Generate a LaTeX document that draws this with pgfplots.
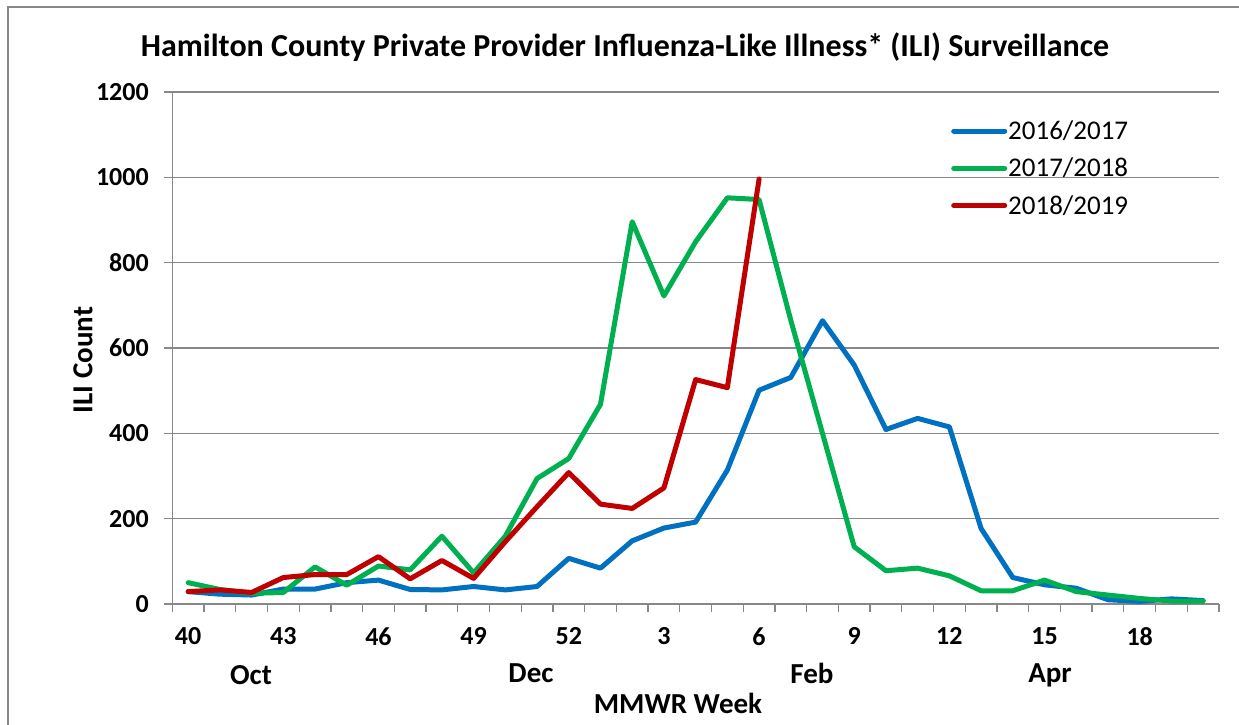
\documentclass[border=0pt]{standalone}
\usepackage{fontspec}
\setmainfont{Carlito}
\usepackage{pgfplots}
\pgfplotsset{compat=1.18}
\definecolor{c1}{HTML}{0070C0}
\definecolor{c2}{HTML}{00B050}
\definecolor{c3}{HTML}{C00000}
\definecolor{gridgray}{HTML}{888888}
\begin{document}
\begin{tikzpicture}[x=1pt,y=1pt]
\useasboundingbox (0,0) rectangle (1239,725);
\draw[gridgray, line width=1.5pt] (8,0) -- (8,718) -- (1239,718);
\begin{axis}[
  at={(172.3pt,121pt)}, anchor=south west,
  scale only axis, width=1046.7pt, height=512pt,
  xmin=-0.5, xmax=32.5, ymin=0, ymax=1200,
  axis x line*=bottom, axis y line*=left,
  x axis line style={-}, y axis line style={-},
  axis line style={gridgray, line width=1.3pt},
  ytick={0,200,...,1200},
  xtick={0,3,...,30},
  xticklabels={40,43,46,49,52,3,6,9,12,15,18},
  minor xtick={-0.5,0.5,...,32.5},
  tick align=outside,
  major tick length=8pt, minor tick length=8pt,
  tick style={gridgray, line width=1.3pt},
  major x tick style={draw=none},
  ymajorgrids, grid style={gridgray, line width=1.3pt},
  ticklabel style={font=\fontsize{26}{30}\selectfont\bfseries},
  /pgf/number format/assume math mode=true,
  /pgf/number format/set thousands separator={},
  yticklabel style={xshift=-12pt},
  xticklabel style={yshift=-12pt},
  legend style={draw=none, fill=none, inner sep=0pt,
    at={(rel axis cs:0.744,0.851)}, anchor=west,
    font=\fontsize{27}{32}\selectfont, row sep=15pt,
    nodes={inner sep=1pt}},
  legend cell align=left,
  legend image code/.code={\draw[#1, line width=5pt, line cap=round] (2.5pt,0pt) -- (53.5pt,0pt);},
  every axis plot/.append style={line width=5pt, line join=round, line cap=round},
  clip=false,
]
\addplot[c1] coordinates {(0,29)(1,23)(2,21)(3,35)(4,35)(5,50)(6,56)(7,34)(8,33)(9,41)(10,33)(11,41)(12,107)(13,84)(14,148)(15,178)(16,192)(17,314)(18,501)(19,531)(20,664)(21,560)(22,409)(23,435)(24,415)(25,177)(26,62)(27,45)(28,37)(29,10)(30,6)(31,12)(32,8)};
\addlegendentry{2016/2017}
\addplot[c2] coordinates {(0,50)(1,34)(2,25)(3,27)(4,87)(5,44)(6,89)(7,80)(8,159)(9,73)(10,159)(11,294)(12,341)(13,468)(14,896)(15,722)(16,849)(17,952)(18,948)(19,665)(20,400)(21,134)(22,78)(23,84)(24,66)(25,31)(26,31)(27,56)(28,29)(29,21)(30,13)(31,7)(32,7)};
\addlegendentry{2017/2018}
\addplot[c3] coordinates {(0,29)(1,33)(2,27)(3,62)(4,69)(5,69)(6,111)(7,59)(8,102)(9,60)(10,146)(11,228)(12,308)(13,234)(14,224)(15,272)(16,526)(17,507)(18,996)};
\addlegendentry{2018/2019}
\end{axis}
\node[font=\fontsize{32}{38}\selectfont\bfseries] at (625,678) {Hamilton County Private Provider Influenza-Like Illness* (ILI) Surveillance};
\node[font=\fontsize{29}{34}\selectfont\bfseries, rotate=90] at (83,365) {ILI Count};
\node[font=\fontsize{29}{34}\selectfont\bfseries] at (678,22) {MMWR Week};
\node[font=\fontsize{29}{34}\selectfont\bfseries] at (251,50) {Oct};
\node[font=\fontsize{29}{34}\selectfont\bfseries] at (531,52) {Dec};
\node[font=\fontsize{29}{34}\selectfont\bfseries] at (812,52) {Feb};
\node[font=\fontsize{29}{34}\selectfont\bfseries] at (1050,50) {Apr};
\end{tikzpicture}
\end{document}
